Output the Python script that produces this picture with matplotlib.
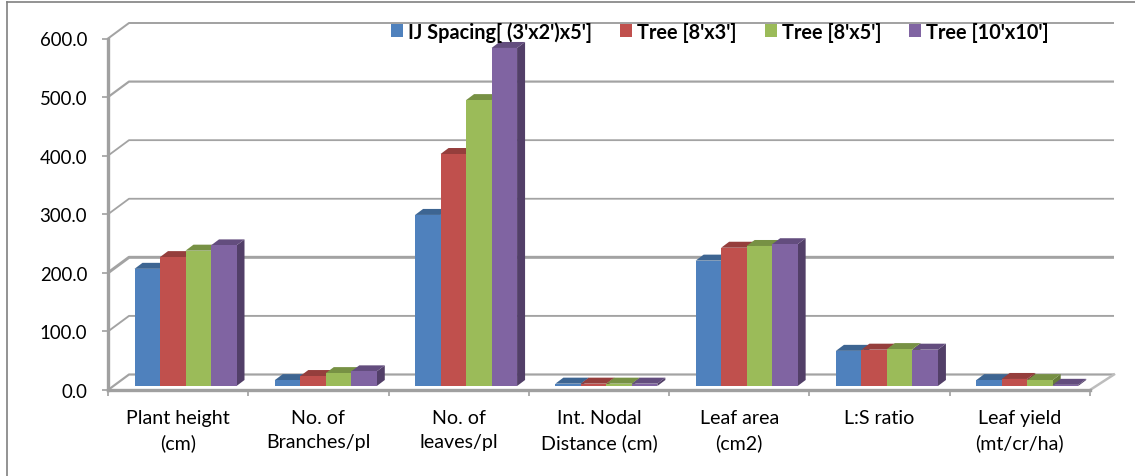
import matplotlib
matplotlib.use("Agg")
import matplotlib.pyplot as plt
from matplotlib.lines import Line2D
from matplotlib.patches import Patch

plt.rcParams['font.family'] = ['Lato', 'DejaVu Sans']

categories = ["Plant height\n(cm)", "No. of\nBranches/pl", "No. of\nleaves/pl",
              "Int. Nodal\nDistance (cm)", "Leaf area\n(cm2)", "L:S ratio", "Leaf yield\n(mt/cr/ha)"]
series_names = ["IJ Spacing[ (3'x2')x5']", "Tree [8'x3']", "Tree [8'x5']", "Tree [10'x10']"]
ij_spacing = [200, 10, 292, 4, 214, 60, 10]
tree_8x3 = [220, 17, 396, 4, 236, 62, 12]
tree_8x5 = [231, 22, 488, 4, 239, 63, 10]
tree_10x10 = [240, 25, 577, 4, 242, 62, 2]
series_values = [ij_spacing, tree_8x3, tree_8x5, tree_10x10]
y_ticks = [0, 100, 200, 300, 400, 500, 600]

front_colors = ['#4F81BD', '#C0504D', '#9BBB59', '#8064A2']
top_colors = ['#3D6592', '#953E3C', '#779144', '#634D7E']
side_colors = ['#35587F', '#803533', '#667C3A', '#523F68']
GRID = '#A3A3A3'

W, H = 1135, 477
fig = plt.figure(figsize=(W / 100, H / 100), dpi=100, facecolor='white')
left, right, top, bottom = 108, 1090, 39.5, 391
ax = fig.add_axes([left / W, 1 - bottom / H, (right - left) / W, (bottom - top) / H])
ax.set_xlim(0, 7)
ax.set_ylim(0, 600)
px_x = 7 / (right - left)
px_y = 600 / (bottom - top)

# Back wall and floor of the 3-D frame
wall_dx, wall_dy = 21 * px_x, 15.5 * px_y
widths = {0: 2.2, 100: 1.9, 200: 3.0, 300: 1.8, 400: 1.8, 500: 2.2, 600: 2.0}
for v in y_ticks:
    lw = widths[v] * 0.72
    ax.plot([0, wall_dx, 7 + wall_dx + 3 * px_x], [v, v + wall_dy, v + wall_dy],
            color=GRID, lw=lw, clip_on=False, zorder=1, solid_capstyle='butt')
ax.plot([7, 7 + wall_dx + 3 * px_x], [0, wall_dy], color='#BDBDBD', lw=1.8, clip_on=False, zorder=1)

# Bars
bar_w = 25.5 * px_x
start = 26.5 * px_x
base = 4 * px_y
dep_x, dep_y = 8 * px_x, 6 * px_y
for c in range(len(categories)):
    for s, vals in enumerate(series_values):
        x0 = c + start + s * bar_w
        x1 = x0 + bar_w
        y0 = base
        y1 = base + vals[c]
        ax.fill([x1, x1 + dep_x, x1 + dep_x, x1], [y0, y0 + dep_y, y1 + dep_y, y1],
                color=side_colors[s], lw=0, zorder=2 + s * 0.1, clip_on=False)
        ax.fill([x0, x1, x1 + dep_x, x0 + dep_x], [y1, y1, y1 + dep_y, y1 + dep_y],
                color=top_colors[s], lw=0, zorder=2 + s * 0.1, clip_on=False)
        ax.bar(x0, vals[c], width=bar_w, bottom=base, align='edge', color=front_colors[s],
               lw=0, zorder=2.05 + s * 0.1, clip_on=False)

# Axes
for name in ('top', 'right'):
    ax.spines[name].set_visible(False)
for name in ('left', 'bottom'):
    ax.spines[name].set_color('#A0A0A0')
    ax.spines[name].set_zorder(1.5)
ax.spines['left'].set_linewidth(2.4)
ax.spines['bottom'].set_linewidth(2.4)
ax.set_yticks(y_ticks)
ax.set_yticklabels([f"{v:.1f}" for v in y_ticks], fontsize=13.4, color='#000000')
ax.tick_params(axis='y', length=4.5, width=1.2, color='#A0A0A0', pad=10.5)
ax.set_xticks(range(8))
ax.set_xticklabels([])
ax.tick_params(axis='x', which='major', length=4.5, width=1.2, color='#A0A0A0')
ax.set_xticks([i + 0.5 for i in range(7)], minor=True)
ax.set_xticklabels(categories, minor=True, fontsize=14.1, color='#000000', linespacing=1.53, ha='center')
ax.tick_params(axis='x', which='minor', length=0, pad=13.5)

# Legend
handles = [Patch(facecolor=c, edgecolor='none') for c in front_colors]
fs = 14.3
leg = fig.legend(handles, series_names, ncol=4, frameon=False, prop={'weight': 'bold', 'size': fs},
                 loc='center left', bbox_to_anchor=(391 / W, 1 - 32.5 / H), bbox_transform=fig.transFigure,
                 handlelength=0.6, handleheight=0.6, handletextpad=0.25, columnspacing=1.42,
                 borderpad=0, borderaxespad=0)
for t in leg.get_texts():
    t.set_color('#000000')

# Page frame around the pasted chart
fig.add_artist(Line2D([6.5 / W, 6.5 / W], [0, 1 - 3 / H], color='#808080', lw=1.2))
fig.add_artist(Line2D([6.5 / W, 1], [1 - 3 / H, 1 - 3 / H], color='#808080', lw=1.2))

fig.savefig('out.png', dpi=100)
